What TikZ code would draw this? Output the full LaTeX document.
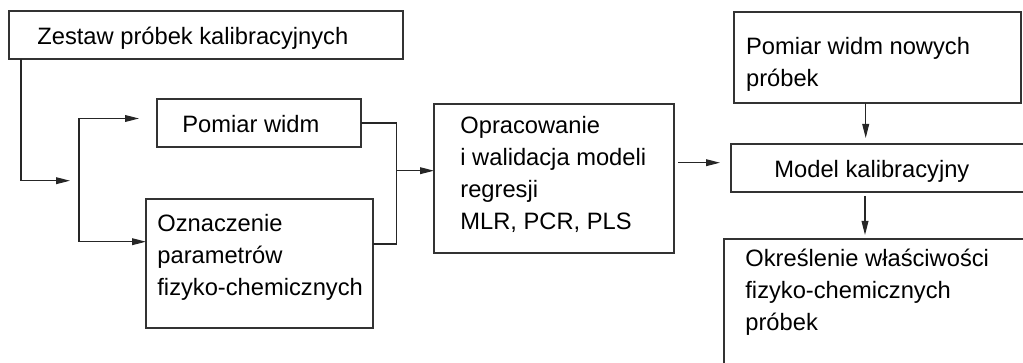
\documentclass[tikz,border=0pt]{standalone}
\usepackage{fontspec}
\setmainfont{Liberation Sans}
\usetikzlibrary{arrows.meta}
\newcommand\mlines[1]{\parbox[t]{150pt}{\raggedright #1}}
\begin{document}
\begin{tikzpicture}[x=0.5pt,y=-0.5pt,
  box/.style={draw=black!80, line width=0.6pt, rectangle, inner sep=0pt, outer sep=0pt, anchor=north west},
  txt/.style={anchor=base west, inner sep=0pt, font=\fontsize{11.85}{16}\selectfont},
  conn/.style={draw=black!85, line width=0.55pt},
  arr/.style={conn, -{Triangle[length=7pt,width=3.4pt]}}]
\useasboundingbox (0,0) rectangle (1023,363);
% boxes
\node[box, minimum width=197pt, minimum height=24pt] (zestaw) at (9,11) {};
\node[box, minimum width=102pt, minimum height=24pt] (pomiar) at (157,99) {};
\node[box, minimum width=113.5pt, minimum height=64.5pt] (oznacz) at (146,199) {};
\node[box, minimum width=120pt, minimum height=74.5pt] (oprac) at (434,104) {};
\node[box, minimum width=143.5pt, minimum height=45.5pt] (nowe) at (734,12) {};
\node[box, minimum width=160pt, minimum height=24pt] (model) at (731,144) {};
\node[box, minimum width=160pt, minimum height=80pt] (okresl) at (724,239) {};
% texts
\node[txt] (tzestaw) at (37,45) {Zestaw próbek kalibracyjnych};
\node[txt] (tpomiar) at (182,133) {Pomiar widm};
\node[txt] (toznacz) at (157,231.7) {\mlines{Oznaczenie\\parametrów\\fizyko-chemicznych}};
\node[txt] (toprac) at (460,133.3) {\mlines{Opracowanie\\i walidacja modeli\\regresji\\MLR, PCR, PLS}};
\node[txt] (tnowe) at (745.7,55) {\mlines{Pomiar widm nowych\\próbek}};
\node[txt] (tmodel) at (774,177.3) {Model kalibracyjny};
\node[txt] (tokresl) at (745,266.7) {\mlines{Określenie właściwości\\fizyko-chemicznych\\próbek}};
% coordinates
\coordinate (s1) at (70,180.7);
\coordinate (s2) at (139,118.5);
\coordinate (j2) at (79,241.7);
\coordinate (m1) at (396.7,123);
\coordinate (m2) at (396.7,244);
\coordinate (m3) at (396.7,170.7);
\coordinate (s3) at (720,162.7);
% connectors
\draw[arr] (21,0 |- zestaw.south) |- (s1);
\draw[arr] (j2) |- (s2);
\draw[arr] (j2) -- (oznacz.west |- j2);
\draw[conn] (pomiar.east) -- (m1) -- (m2) -- (oznacz.east |- m2);
\draw[arr] (m3) -- (oprac.west |- m3);
\draw[arr, shorten <=2pt] (oprac.east |- s3) -- (s3);
\draw[arr, shorten >=3pt] (865.7,0 |- nowe.south) -- (865.7,0 |- model.north);
\draw[arr, shorten <=2pt, shorten >=2pt] (865,0 |- model.south) -- (865,0 |- okresl.north);
\end{tikzpicture}
\end{document}
